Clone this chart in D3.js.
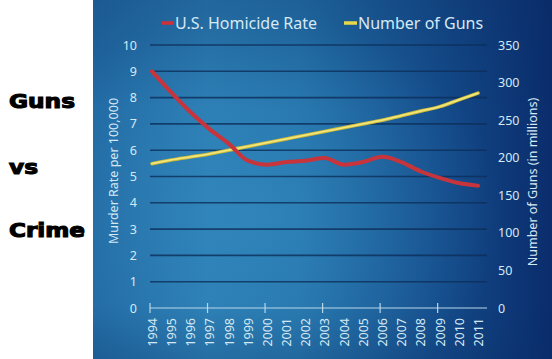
<!DOCTYPE html>
<html><head><meta charset="utf-8">
<script src="https://cdn.jsdelivr.net/npm/d3@7"></script>
<style>body{margin:0;background:#fff;}svg{display:block;}</style>
</head><body>
<svg id="c" width="552" height="359"></svg>
<script>
const years = ["1994","1995","1996","1997","1998","1999","2000","2001","2002","2003","2004","2005","2006","2007","2008","2009","2010","2011"];
const homicideRate = [9.0,8.2,7.45,6.8,6.25,5.6,5.45,5.55,5.6,5.7,5.45,5.55,5.75,5.55,5.2,4.95,4.75,4.65];
const numberOfGuns = [192,197,201,205,210,215,220,225,230,235,240,245,250,256,262,268,277,286];
const leftTicks = [0,1,2,3,4,5,6,7,8,9,10];
const rightTicks = [0,50,100,150,200,250,300,350];
const xTickYears = ["1994","1997","2000","2003","2006","2009"];
const sideWords = ["Guns","vs","Crime"];

const svg = d3.select("#c");
const defs = svg.append("defs");
const lg = defs.append("linearGradient").attr("id","bg").attr("x1","0").attr("y1","0").attr("x2","1").attr("y2","0");
[["0%","#2168a2"],["25%","#2a7bb2"],["45%","#2472aa"],["75%","#144b8a"],["100%","#0a2c6c"]].forEach(s=>lg.append("stop").attr("offset",s[0]).attr("stop-color",s[1]));
const rg = defs.append("radialGradient").attr("id","glow").attr("cx","0.35").attr("cy","0.6").attr("r","0.55");
rg.append("stop").attr("offset","0%").attr("stop-color","#3a95c6").attr("stop-opacity",0.45);
rg.append("stop").attr("offset","100%").attr("stop-color","#3a95c6").attr("stop-opacity",0);
const vg = defs.append("linearGradient").attr("id","vtop").attr("x1","0").attr("y1","0").attr("x2","0").attr("y2","1");
vg.append("stop").attr("offset","0%").attr("stop-color","#0a2c60").attr("stop-opacity",0.25);
vg.append("stop").attr("offset","30%").attr("stop-color","#0a2c60").attr("stop-opacity",0);
vg.append("stop").attr("offset","85%").attr("stop-color","#0a2c60").attr("stop-opacity",0);
vg.append("stop").attr("offset","100%").attr("stop-color","#0a2c60").attr("stop-opacity",0.2);

svg.append("rect").attr("x",93).attr("y",0).attr("width",459).attr("height",359).attr("fill","url(#bg)");
svg.append("rect").attr("x",93).attr("y",0).attr("width",459).attr("height",359).attr("fill","url(#glow)");
svg.append("rect").attr("x",93).attr("y",0).attr("width",459).attr("height",359).attr("fill","url(#vtop)");

// side words
svg.selectAll("text.side").data(sideWords).enter().append("text")
  .attr("class","side").attr("x",9).attr("y",(d,i)=>[108,174,237][i])
  .attr("font-family","'DejaVu Sans', sans-serif").attr("font-weight","bold")
  .attr("font-size",19).attr("fill","#000").attr("stroke","#000").attr("stroke-width",1.1)
  .attr("textLength",(d,i)=>[66,29,76][i]).attr("lengthAdjust","spacingAndGlyphs")
  .text(d=>d);

const x = d3.scalePoint().domain(years).range([152,478]);
const yL = d3.scaleLinear().domain([0,10]).range([308,45]);
const yR = d3.scaleLinear().domain([0,350]).range([308,45]);
const font = "'Noto Sans', sans-serif";
const txt = "#d5e9f5";

// gridlines
svg.append("g").selectAll("line").data(leftTicks.filter(d=>d>0)).enter().append("line")
  .attr("x1",150).attr("x2",487).attr("y1",d=>yL(d)).attr("y2",d=>yL(d))
  .attr("stroke","#0d2f5a").attr("stroke-width",1.6).attr("opacity",0.8);

// left axis
const gl = svg.append("g").attr("transform","translate(150,0)")
  .call(d3.axisLeft(yL).tickValues(leftTicks).tickSize(0).tickPadding(13).tickFormat(d3.format("d")));
gl.select(".domain").remove();
gl.selectAll("text").attr("font-family",font).attr("font-size",12.5).attr("fill",txt);

// right axis
const gr = svg.append("g").attr("transform","translate(487,0)")
  .call(d3.axisRight(yR).tickValues(rightTicks).tickSize(0).tickPadding(11).tickFormat(d3.format("d")));
gr.select(".domain").remove();
gr.selectAll("text").attr("font-family",font).attr("font-size",12.5).attr("fill",txt);

// x axis
const gx = svg.append("g").attr("transform","translate(0,308)")
  .call(d3.axisBottom(x).tickSize(0).tickPadding(0));
gx.select(".domain").remove();
gx.selectAll("text").attr("font-family",font).attr("font-size",12.5).attr("fill",txt)
  .attr("transform","rotate(-90)").attr("text-anchor","end").attr("dy","0.35em").attr("x",-10).attr("y",0);
svg.append("line").attr("x1",150).attr("x2",487).attr("y1",308).attr("y2",308)
  .attr("stroke","#b8d8ea").attr("stroke-width",1.2);
svg.append("g").selectAll("line").data(xTickYears).enter().append("line")
  .attr("x1",d=>x(d)-2).attr("x2",d=>x(d)-2).attr("y1",303).attr("y2",313)
  .attr("stroke","#b8d8ea").attr("stroke-width",1.2);

// axis titles
svg.append("text").attr("transform","translate(118,171) rotate(-90)").attr("text-anchor","middle")
  .attr("font-family",font).attr("font-size",12.5).attr("fill",txt).text("Murder Rate per 100,000");
svg.append("text").attr("transform","translate(537,182) rotate(-90)").attr("text-anchor","middle")
  .attr("font-family",font).attr("font-size",12.5).attr("fill",txt).text("Number of Guns (in millions)");

// lines
const lineL = d3.line().x((d,i)=>x(years[i])).y(d=>yL(d)).curve(d3.curveMonotoneX);
const lineR = d3.line().x((d,i)=>x(years[i])).y(d=>yR(d)).curve(d3.curveMonotoneX);
svg.append("path").attr("d",lineR(numberOfGuns)).attr("fill","none").attr("stroke","#c9b83a").attr("stroke-width",3.6).attr("stroke-linecap","round");
svg.append("path").attr("d",lineR(numberOfGuns)).attr("fill","none").attr("stroke","#f2e67a").attr("stroke-width",1.8).attr("stroke-linecap","round");
svg.append("path").attr("d",lineL(homicideRate)).attr("fill","none").attr("stroke","#c8343c").attr("stroke-width",4).attr("stroke-linecap","round");

// legend
const leg = svg.append("g");
leg.append("line").attr("x1",162).attr("x2",174).attr("y1",23).attr("y2",23).attr("stroke","#d0303a").attr("stroke-width",3.5);
leg.append("text").attr("x",175).attr("y",29).attr("font-family",font).attr("font-size",16).attr("fill",txt).text("U.S. Homicide Rate");
leg.append("line").attr("x1",344).attr("x2",357).attr("y1",23).attr("y2",23).attr("stroke","#e8d84a").attr("stroke-width",3.5);
leg.append("text").attr("x",358).attr("y",29).attr("font-family",font).attr("font-size",16).attr("fill",txt).text("Number of Guns");
</script>
</body></html>
